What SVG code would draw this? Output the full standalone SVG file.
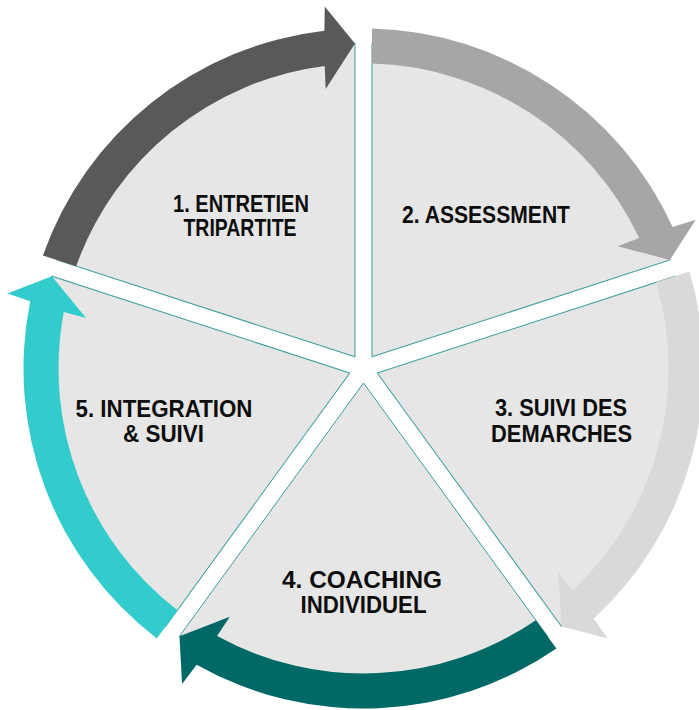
<svg xmlns="http://www.w3.org/2000/svg" width="699" height="710" viewBox="0 0 699 710">
<style>
.w{fill:#e6e6e6;stroke:#3a9e9e;stroke-width:1}
.t{font-family:"Liberation Sans",Arial,sans-serif;font-weight:bold;font-size:24px;fill:#0d0d0d;text-anchor:middle}
</style>
<defs>
<path id="wedge" d="M0,-14.46 L184.08,-267.84 A325,325 0 0 0 -184.08,-267.84 Z"/>
<path id="arrow" d="M-192.91,-279.98 A340,340 0 0 1 166.87,-296.24 L181.41,-315.58 L184.05,-267.87 L133.66,-248.32 L146.43,-267.55 A305,305 0 0 0 -172.33,-251.65 Z"/>
</defs>
<rect width="699" height="710" fill="#ffffff"/>
<g transform="translate(363.5,368.5)">
<g id="node1"><use href="#wedge" class="w" transform="rotate(-36)"/></g>
<g id="node2"><use href="#wedge" class="w" transform="rotate(36)"/></g>
<g id="node3"><use href="#wedge" class="w" transform="rotate(108)"/></g>
<g id="node4"><use href="#wedge" class="w" transform="rotate(180)"/></g>
<g id="node5"><use href="#wedge" class="w" transform="rotate(252)"/></g>
<g id="connectors">
<use href="#arrow" fill="#595959" transform="rotate(-36)"/>
<use href="#arrow" fill="#a6a6a6" transform="rotate(36)"/>
<use href="#arrow" fill="#d9d9d9" transform="rotate(108)"/>
<use href="#arrow" fill="#006966" transform="rotate(180)"/>
<use href="#arrow" fill="#33cccc" transform="rotate(252)"/>
</g>
</g>
<g id="labels">
<text class="t" x="241" y="211.5" textLength="136" lengthAdjust="spacingAndGlyphs">1. ENTRETIEN</text>
<text class="t" x="240" y="236" textLength="113" lengthAdjust="spacingAndGlyphs">TRIPARTITE</text>
<text class="t" x="486" y="223" textLength="168" lengthAdjust="spacingAndGlyphs">2. ASSESSMENT</text>
<text class="t" x="561" y="415.5" textLength="132" lengthAdjust="spacingAndGlyphs">3. SUIVI DES</text>
<text class="t" x="561.5" y="441.5" textLength="141" lengthAdjust="spacingAndGlyphs">DEMARCHES</text>
<text class="t" x="362" y="587.5" textLength="160" lengthAdjust="spacingAndGlyphs">4. COACHING</text>
<text class="t" x="363.5" y="612.5" textLength="126" lengthAdjust="spacingAndGlyphs">INDIVIDUEL</text>
<text class="t" x="164" y="416.5" textLength="177" lengthAdjust="spacingAndGlyphs">5. INTEGRATION</text>
<text class="t" x="163.5" y="442" textLength="81" lengthAdjust="spacingAndGlyphs">&amp; SUIVI</text>
</g>
</svg>
